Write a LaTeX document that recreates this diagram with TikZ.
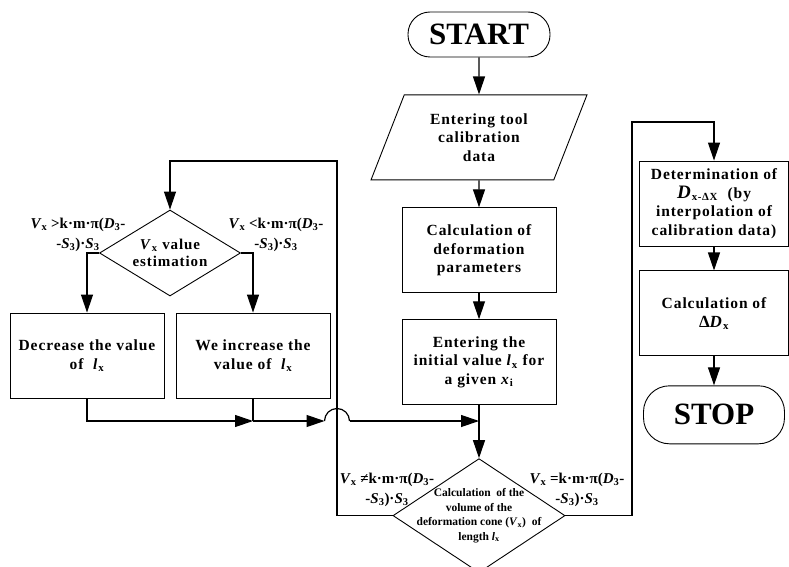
\documentclass[tikz,border=0pt]{standalone}
\usepackage{fontspec}
\setmainfont{Liberation Serif}
\newfontfamily\spacedfont{Liberation Serif}[LetterSpace=6]
\usepackage{tikz}
\usetikzlibrary{positioning, arrows.meta, shapes.geometric}

\newcommand{\Vx}{\textit{V}\textsubscript{x}}
\newcommand{\lx}{\textit{l}\textsubscript{x}}
\newcommand{\kmpi}{k·m·π(\textit{D}\textsubscript{3}-}
\newcommand{\Sthree}{-\textit{S}\textsubscript{3})·\textit{S}\textsubscript{3}}

\begin{document}
\begin{tikzpicture}[
    x=1pt, y=-1pt,
    node distance=26pt,
    terminal/.style={
        draw,
        line width=0.9pt,
        rounded corners=22pt,
        minimum width=142pt,
        minimum height=45pt,
        font=\bfseries\fontsize{31}{31}\selectfont
    },
    box/.style={
        draw,
        line width=0.9pt,
        align=center,
        minimum width=154pt,
        minimum height=85pt,
        font=\spacedfont\bfseries\fontsize{15.5}{18.5}\selectfont
    },
    datain/.style={
        draw,
        line width=0.9pt,
        trapezium,
        trapezium left angle=67,
        trapezium right angle=113,
        trapezium stretches=true,
        align=center,
        minimum width=216pt,
        minimum height=85pt,
        font=\spacedfont\bfseries\fontsize{15.5}{18.5}\selectfont
    },
    decision/.style={
        draw,
        line width=0.9pt,
        diamond,
        inner sep=0pt,
        align=center
    },
    cond/.style={
        align=center,
        inner sep=0pt,
        font=\bfseries\fontsize{15}{20}\selectfont
    },
    arrow/.style={
        -{Triangle[length=18pt,width=12pt]},
        line width=1.2pt
    },
    line/.style={
        line width=1.2pt
    }
]
\useasboundingbox (0,0) rectangle (789,567);

% Main column
\node[terminal] (start) at (479,34.5) {START};
\node[datain, below=37pt of start] (calib) {Entering tool\\calibration\\data};
\node[box, below=27pt of calib] (defo) {Calculation of\\deformation\\parameters};
\node[box, below=of defo] (init) {Entering the\\initial value \lx{} for\\a given \textit{x}\textsubscript{i}};
\node[decision, minimum width=172pt, minimum height=114pt, below=53pt of init] (vol) {};
\node[align=center, font=\bfseries\fontsize{11.5}{14.5}\selectfont] (voltext) at (vol)
    {Calculation~ of the\\volume of the\\deformation cone (\Vx)~ of\\length \lx};

% Left loop
\node[decision, aspect=1.64, minimum width=141pt, minimum height=86pt,
      font=\spacedfont\bfseries\fontsize{15}{17}\selectfont] (est) at (170,253) {\Vx{} value\\estimation};
\node[box] (dec) at (87,355.5) {Decrease the value\\of~ \lx};
\node[box] (inc) at (253,355.5) {We increase the\\value of~ \lx};

% Right column
\node[box, minimum width=149pt] (det) at (714,203.5)
    {Determination of\\{\fontsize{19}{18}\selectfont\textit{D}}\textsubscript{x-ΔX}~ (by\\interpolation of\\calibration data)};
\node[box, minimum width=149pt, below=24pt of det] (dd)
    {Calculation of\\{\fontsize{17}{17}\selectfont Δ\textit{D}}\textsubscript{x}};
\node[terminal, minimum width=141pt, minimum height=58pt, rounded corners=26pt, below=29pt of dd] (stop) {STOP};

% Conditions
\node[cond] (gt) at (78,235) {\Vx{} >\kmpi\\\Sthree};
\node[cond] (lt) at (276,235) {\Vx{} <\kmpi\\\Sthree};
\node[cond] (ne) at (387,490) {\Vx{} ≠\kmpi\\\Sthree};
\node[cond] (eq) at (577,490) {\Vx{} =\kmpi\\\Sthree};

% Helper points
\coordinate (loopL) at (337,161);
\coordinate (loopR) at (632,122);
\coordinate (merge) at (inc.south |- 0,421);
\coordinate (join) at (init.south |- 0,421);
\coordinate (hopin) at (324.5,421);
\coordinate (hopout) at (349.5,421);

% Arrows
\draw[arrow] (start) -- (calib);
\draw[arrow] (calib) -- (defo);
\draw[arrow] (defo) -- (init);
\draw[arrow] (init) -- (vol);
\draw[arrow] (vol.west) -| (loopL) -| (est.north);
\draw[arrow] (est.west) -| (dec.north);
\draw[arrow] (est.east) -| (inc.north);
\draw[arrow] (dec.south) |- (merge);
\draw[line] (inc.south) -- (merge);
\draw[arrow] (merge) -- (hopin);
\draw[line] (hopin) arc[start angle=180, end angle=360, radius=12.5];
\draw[arrow] (hopout) -- (join);
\draw[arrow] (vol.east) -| (loopR) -| (det.north);
\draw[arrow] (det) -- (dd);
\draw[arrow] (dd) -- (stop);

\end{tikzpicture}
\end{document}
